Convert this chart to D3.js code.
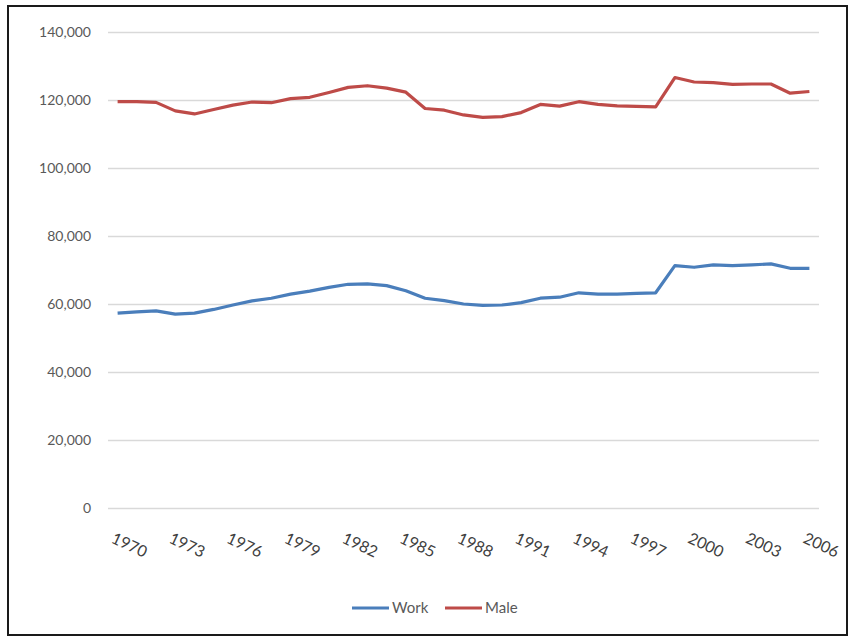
<!DOCTYPE html>
<html lang="en">
<head>
<meta charset="utf-8">
<title>Work and Male</title>
<script src="https://cdn.jsdelivr.net/npm/d3@7"></script>
<style>
body{margin:0;background:#fff;}
</style>
</head>
<body>
<script>
// years 1970..2006
var years = [1970,1971,1972,1973,1974,1975,1976,1977,1978,1979,
             1980,1981,1982,1983,1984,1985,1986,1987,1988,1989,
             1990,1991,1992,1993,1994,1995,1996,1997,1998,1999,
             2000,2001,2002,2003,2004,2005,2006];

var work = [57300,57700,58000,57000,57300,58400,59700,60900,61700,62900,
            63800,64900,65800,65900,65400,63900,61700,61000,60000,59600,
            59700,60400,61700,62000,63300,62900,62900,63100,63300,71300,
            70800,71500,71300,71500,71800,70500,70500];

var male = [119500,119500,119300,116800,115900,117200,118500,119400,119200,120400,
            120800,122200,123700,124200,123500,122300,117500,117000,115600,114900,
            115100,116300,118700,118200,119500,118700,118300,118100,118000,126600,
            125300,125100,124600,124700,124700,122000,122500];

var yTicks = [0,20000,40000,60000,80000,100000,120000,140000];
var xLabelYears = [1970,1973,1976,1979,1982,1985,1988,1991,1994,1997,2000,2003,2006];

var w = 850, h = 639;
// plot area (name "top" is taken by window.top, so use plot*)
var plotLeft = 108, plotRight = 819, plotTop = 32, plotBottom = 508;

var svg = d3.select("body").append("svg")
  .attr("width", w)
  .attr("height", h);

// frame
svg.append("rect")
  .attr("x", 8).attr("y", 6)
  .attr("width", 839).attr("height", 629)
  .attr("fill", "#fff")
  .attr("stroke", "#1a1a1a")
  .attr("stroke-width", 2);

var x = d3.scalePoint()
  .domain(years)
  .range([plotLeft, plotRight])
  .padding(0.5);

var y = d3.scaleLinear()
  .domain([0, 140000])
  .range([plotBottom, plotTop]);

// grid lines + y labels
var yAxis = d3.axisLeft(y)
  .tickValues(yTicks)
  .tickSize(-(plotRight - plotLeft))
  .tickPadding(17)
  .tickFormat(d3.format(","));

var gy = svg.append("g")
  .attr("transform", "translate(" + plotLeft + ",0)")
  .call(yAxis);
gy.select(".domain").remove();
gy.selectAll(".tick line").attr("stroke", "#d9d9d9").attr("stroke-width", 1.3);
gy.selectAll(".tick text")
  .attr("fill", "#595959")
  .attr("font-family", "Lato, 'Open Sans', sans-serif")
  .attr("font-size", "14px");

// x labels, rotated
var xAxis = d3.axisBottom(x)
  .tickValues(xLabelYears)
  .tickSize(0)
  .tickPadding(0);

var gx = svg.append("g")
  .attr("transform", "translate(0," + plotBottom + ")")
  .call(xAxis);
gx.select(".domain").remove();
gx.selectAll(".tick text")
  .attr("fill", "#404040")
  .attr("font-family", "Lato, 'Open Sans', sans-serif")
  .attr("font-size", "16px")
  .attr("text-anchor", "middle")
  .attr("dy", null)
  .attr("transform", "translate(9,42) rotate(25)");

// lines
var line = d3.line()
  .x(function(d, i){ return x(years[i]); })
  .y(function(d){ return y(d); });

svg.append("path")
  .datum(work)
  .attr("fill", "none")
  .attr("stroke", "#4a7ebb")
  .attr("stroke-width", 3.2)
  .attr("stroke-linejoin", "round")
  .attr("d", line);

svg.append("path")
  .datum(male)
  .attr("fill", "none")
  .attr("stroke", "#be4b48")
  .attr("stroke-width", 3.2)
  .attr("stroke-linejoin", "round")
  .attr("d", line);

// legend
var legend = [{name:"Work", color:"#4a7ebb", x:352}, {name:"Male", color:"#be4b48", x:445}];
var lg = svg.append("g").selectAll("g")
  .data(legend)
  .enter().append("g")
  .attr("transform", function(d){ return "translate(" + d.x + ",608)"; });
lg.append("line")
  .attr("x1", 0).attr("x2", 37)
  .attr("stroke", function(d){ return d.color; })
  .attr("stroke-width", 3.2);
lg.append("text")
  .attr("x", 40)
  .attr("dy", "0.35em")
  .attr("fill", "#595959")
  .attr("font-family", "Lato, 'Open Sans', sans-serif")
  .attr("font-size", "15px")
  .text(function(d){ return d.name; });
</script>
</body>
</html>
